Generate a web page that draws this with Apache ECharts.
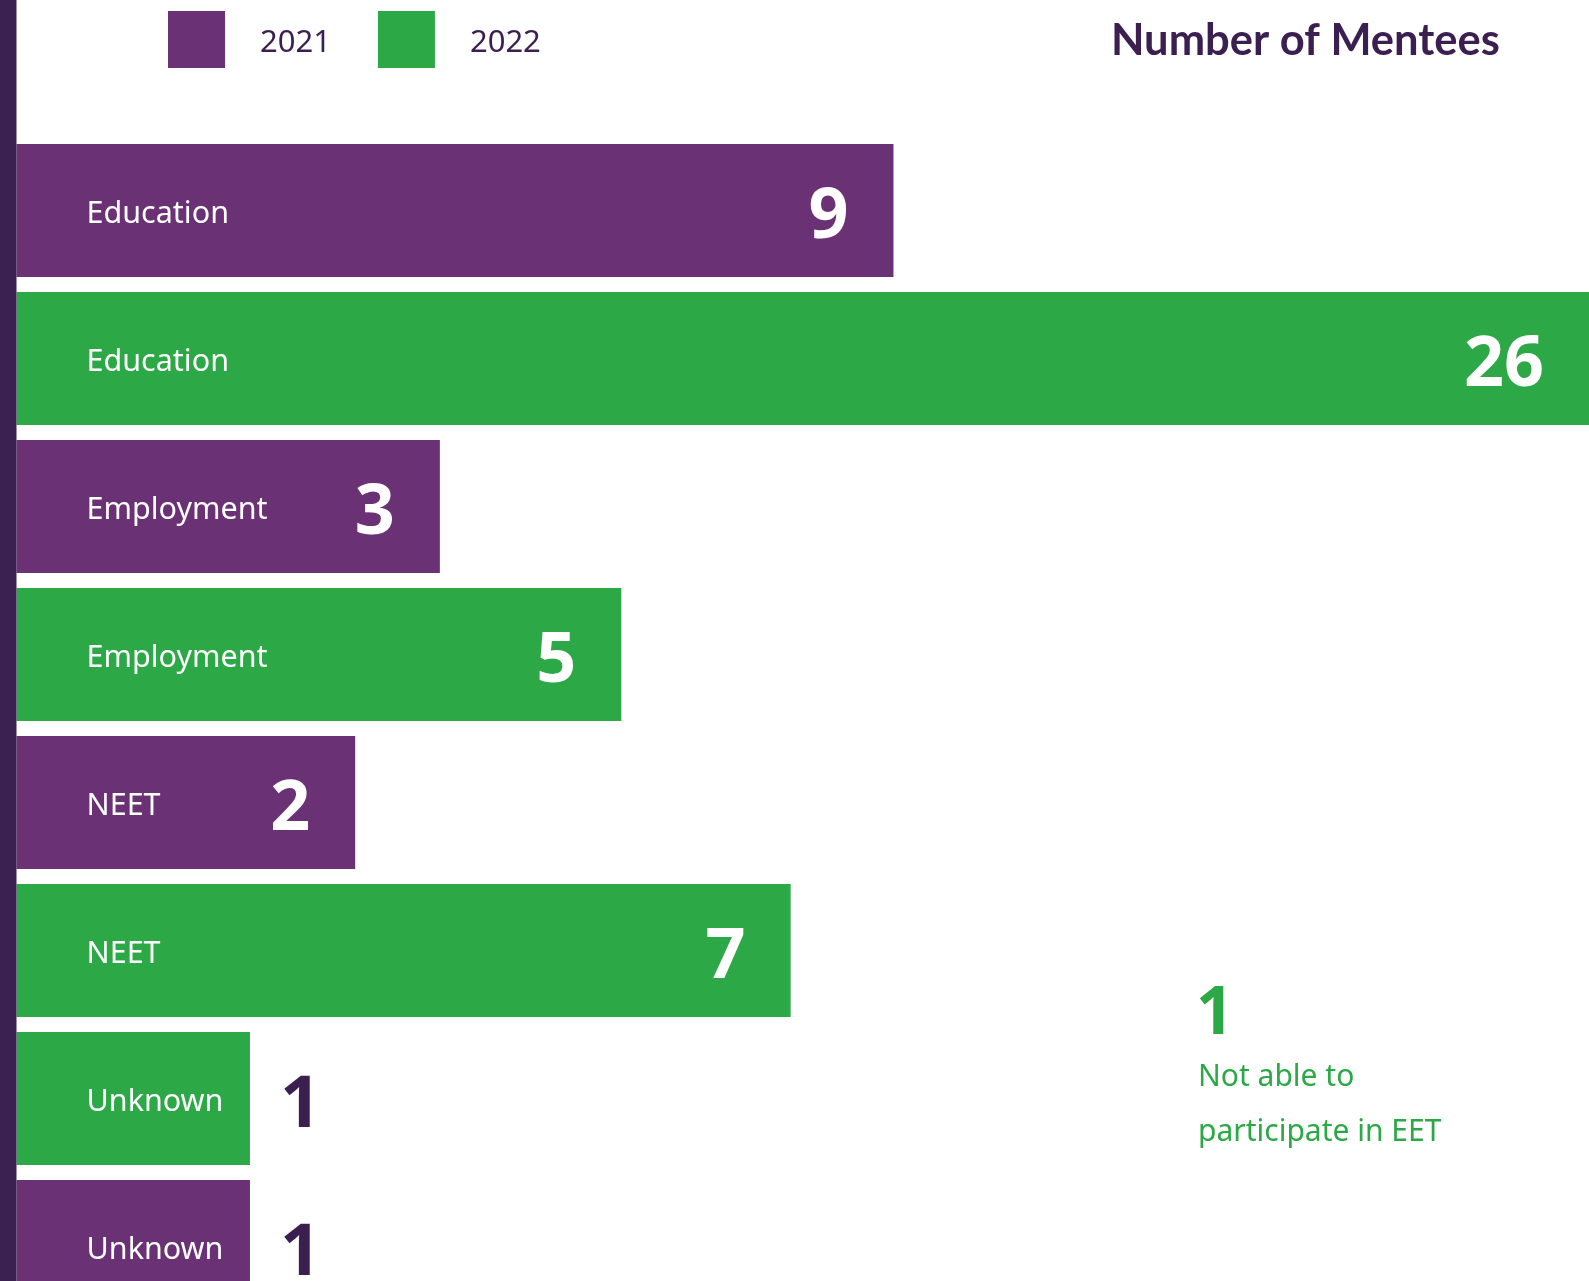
<!DOCTYPE html>
<html>
<head>
<meta charset="utf-8">
<script src="https://cdn.jsdelivr.net/npm/echarts@6/dist/echarts.min.js"></script>
<style>
html,body{margin:0;padding:0;background:#fff;overflow:hidden;}
#chart{width:1589px;height:1330px;}
</style>
</head>
<body>
<div id="chart"></div>
<script>
// ---- data ----
var categories = ['Education', 'Education', 'Employment', 'Employment', 'NEET', 'NEET', 'Unknown', 'Unknown'];
var years = ['2021', '2022', '2021', '2022', '2021', '2022', '2022', '2021'];
var values = [9, 26, 3, 5, 2, 7, 1, 1];
// drawn bar lengths as they appear in the reference (not to scale with values), axis max = 26
var drawnLength = [14.5, 26, 7.0, 10.0, 5.6, 12.8, 3.86, 3.86];
var seriesNames = ['2021', '2022'];
var titleText = 'Number of Mentees';
var notEetCount = 1;
var notEetText = 'Not able to\nparticipate in EET';

var PURPLE = '#6a3275';
var GREEN = '#2da846';
var DARK = '#3b1f50';

function seriesData(year) {
  return categories.map(function (c, i) {
    if (years[i] !== year) return '-';
    var outside = values[i] === 1;
    return {
      value: drawnLength[i],
      label: outside ? {
        position: 'right', distance: 30, color: DARK, fontSize: 72
      } : {
        position: 'insideRight', distance: 45, color: '#fff', fontSize: 70
      }
    };
  });
}

function makeSeries(year, color) {
  return {
    name: year,
    type: 'bar',
    barWidth: 133,
    barGap: '-100%',
    itemStyle: { color: color },
    data: seriesData(year),
    label: {
      show: true,
      fontFamily: 'Noto Sans',
      fontWeight: 'bold',
      offset: [0, 8],
      formatter: function (p) { return String(values[p.dataIndex]); }
    },
    emphasis: { disabled: true },
    animation: false
  };
}

var chart = echarts.init(document.getElementById('chart'), null, { renderer: 'canvas' });
chart.setOption({
  backgroundColor: '#ffffff',
  animation: false,
  legend: {
    data: seriesNames,
    left: 168,
    top: 11,
    padding: 0,
    itemWidth: 57,
    itemHeight: 57,
    itemGap: 47,
    icon: 'rect',
    selectedMode: false,
    formatter: function (name) { return '{t|' + name + '}'; },
    textStyle: {
      fontFamily: 'Noto Sans',
      fontSize: 31,
      color: DARK,
      rich: {
        t: {
          fontFamily: 'Noto Sans',
          fontSize: 31,
          color: DARK,
          padding: [8, 0, 0, 30]
        }
      }
    }
  },
  grid: { left: 16.5, right: 0, top: 136.5, height: 1184, containLabel: false },
  xAxis: {
    type: 'value',
    min: 0,
    max: 26,
    show: false
  },
  yAxis: {
    type: 'category',
    inverse: true,
    data: categories,
    z: 10,
    axisLine: { show: false },
    axisTick: { show: false },
    splitLine: { show: false },
    axisLabel: {
      inside: true,
      margin: 70,
      color: '#ffffff',
      fontFamily: 'Noto Sans',
      fontSize: 30.5,
      formatter: function (v) { return '{c|' + v + '}'; },
      rich: {
        c: {
          color: '#ffffff',
          fontFamily: 'Noto Sans',
          fontSize: 30.5,
          padding: [7, 0, 0, 0]
        }
      }
    }
  },
  series: [makeSeries('2021', PURPLE), makeSeries('2022', GREEN)],
  graphic: [
    {
      type: 'rect',
      left: 0, top: 0,
      shape: { x: 0, y: 0, width: 16.5, height: 1330 },
      style: { fill: '#3b2152' },
      z: 20
    },
    {
      type: 'text',
      left: 1111, top: 19,
      style: {
        text: titleText,
        fontFamily: 'Lato',
        fontWeight: 'bold',
        fontSize: 43.5,
        fill: DARK
      }
    },
    {
      type: 'text',
      left: 1196, top: 982,
      style: {
        text: String(notEetCount),
        fontFamily: 'Noto Sans',
        fontWeight: 'bold',
        fontSize: 66,
        fill: GREEN
      }
    },
    {
      type: 'text',
      left: 1198, top: 1050,
      style: {
        text: notEetText,
        fontFamily: 'Noto Sans',
        fontSize: 30,
        lineHeight: 55,
        fill: GREEN
      }
    }
  ]
});
</script>
</body>
</html>
